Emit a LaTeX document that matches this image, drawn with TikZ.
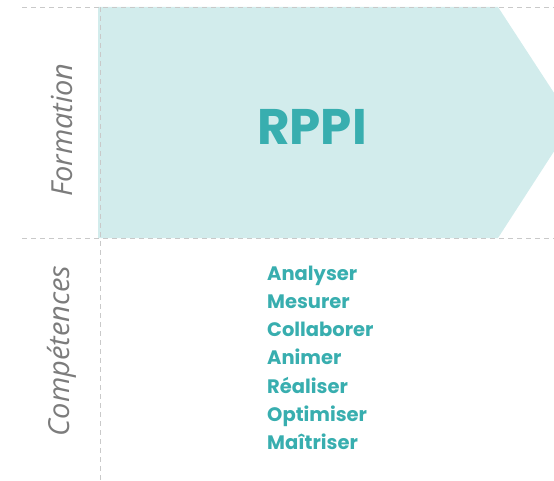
\documentclass[tikz,border=0pt]{standalone}
\usepackage{fontspec}
\newfontfamily\headfont{Poppins}
\newfontfamily\sidefont{Open Sans}
\definecolor{tealfill}{HTML}{D2ECEC}
\definecolor{tealtext}{HTML}{38AEAF}
\definecolor{gridgray}{HTML}{C9C9C9}
\definecolor{sidegray}{HTML}{7C7C7C}
\tikzset{
  gridline/.style={draw=gridgray, line width=0.9pt, dash pattern=on 5pt off 4pt},
  sidelabel/.style={rotate=90, text=sidegray, font=\sidefont\itshape\fontsize{29}{33}\selectfont, inner sep=0pt},
  skill/.style={anchor=base west, text=tealtext, font=\headfont\bfseries\fontsize{19.5}{23}\selectfont, inner sep=0pt},
}
\begin{document}
\begin{tikzpicture}[x=1pt,y=-1pt]
\useasboundingbox (0,0) rectangle (554,481);
\begin{scope}
\clip (0,0) rectangle (554,481);
\fill[tealfill] (98,7) -- (498,7) -- (573,122) -- (498,238) -- (98,238) -- cycle;
\end{scope}
\draw[gridline] (22,7) -- (554,7);
\draw[gridline] (22,238) -- (554,238);
\draw[gridline] (100,7) -- (100,481);
\node[text=tealtext, font=\headfont\bfseries\fontsize{50}{56}\selectfont, inner sep=0pt] (rppi) at (312,127) {RPPI};
\node[sidelabel] (formation) at (62,130) {Formation};
\node[sidelabel] (competences) at (62,351) {Compétences};
\node[skill] (s1) at (267,280) {Analyser};
\node[skill] (s2) at (267,308.3) {Mesurer};
\node[skill] (s3) at (267,336.6) {Collaborer};
\node[skill] (s4) at (267,364.9) {Animer};
\node[skill] (s5) at (267,393.2) {Réaliser};
\node[skill] (s6) at (267,421.5) {Optimiser};
\node[skill] (s7) at (267,449.8) {Maîtriser};
\end{tikzpicture}
\end{document}
